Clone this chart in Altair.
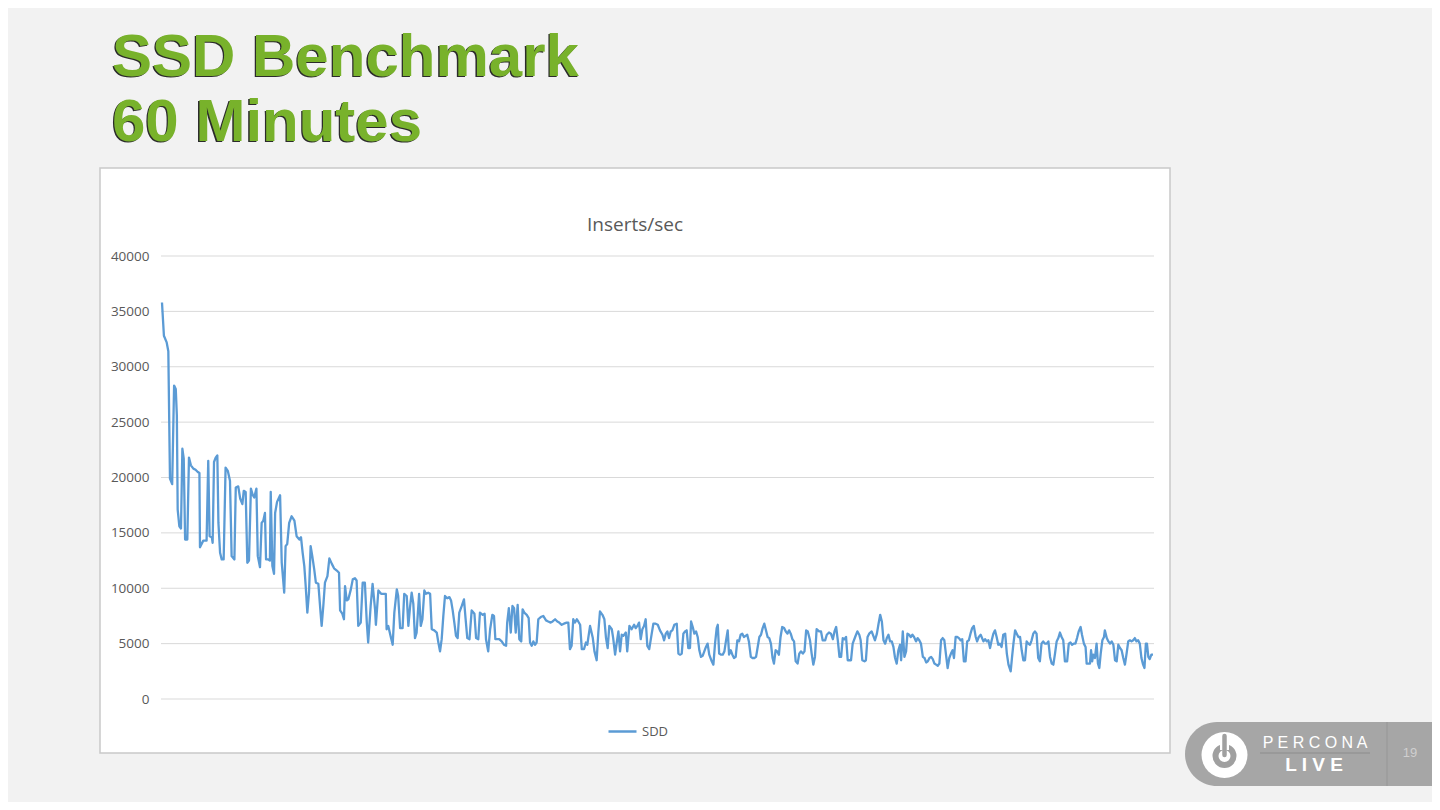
import altair as alt
import pandas as pd

# ---------------- data (elapsed seconds, inserts/sec) ----------------
t_a = [0, 7, 17, 23, 29, 37, 44, 50, 54, 57,
       63, 69, 74, 79, 84, 92, 98, 105, 114, 122,
       130, 136, 138, 144, 150, 162, 168, 173, 181, 184,
       189, 195, 201, 205, 211, 217, 224, 231, 239, 247,
       253, 263, 268, 277, 284, 292, 297, 304, 310, 316,
       323, 330, 335, 343, 348, 356, 362, 368, 374, 378,
       386, 392, 395, 401, 407, 411, 418, 429, 435, 444,
       449, 455, 462, 471, 481, 489, 499, 505, 511, 517,
       522, 528, 534, 540, 546, 553, 559, 568]
v_a = [35800, 32800, 32200, 31400, 19900, 19400, 28300, 28000, 25600, 17100,
       15600, 15400, 22600, 21700, 14400, 14400, 21800, 21100, 20800, 20700,
       20500, 20400, 13700, 14000, 14300, 14300, 21500, 14700, 14600, 14100,
       21400, 21800, 22000, 15900, 13200, 12600, 12600, 20900, 20600, 19700,
       12900, 12600, 19100, 19200, 18100, 17600, 18800, 18700, 12300, 12500,
       19000, 18400, 18200, 19000, 12900, 11900, 15900, 16100, 16800, 12600,
       12600, 12500, 18700, 12000, 11300, 16800, 17800, 18400, 12300, 9600,
       13800, 14000, 15900, 16500, 16100, 14700, 14400, 14600, 13200, 12000,
       10200, 7800, 9600, 13800, 12900, 11700, 10500, 10400]

t_b = [576, 580, 586, 592, 601, 608, 617, 625, 635, 643,
       647, 655, 661, 665, 671, 677, 686, 693, 701, 707,
       713, 722, 729, 737, 744, 749, 758, 765, 774, 777,
       786, 796, 804, 813, 816, 822, 832, 838, 844, 853,
       858, 865, 874, 880, 889, 895, 901, 907, 913, 919,
       925, 934, 940, 946, 953, 959, 967, 974, 980, 989,
       998, 1004, 1010, 1016, 1022, 1028, 1036, 1044, 1050, 1056,
       1062, 1068, 1074, 1080, 1089, 1097, 1103, 1109, 1117, 1125,
       1135, 1141, 1149, 1155]
v_b = [7800, 6600, 8400, 10500, 11100, 12700, 12200, 11800, 11600, 11400,
       8000, 7700, 7200, 10200, 8900, 9000, 9900, 10800, 10900, 10700,
       6600, 6900, 10500, 10500, 6900, 5100, 8400, 10400, 8100, 6700,
       9800, 9500, 9500, 9500, 6300, 6600, 5500, 4900, 7800, 9900,
       9300, 6400, 6400, 9500, 9300, 6600, 8300, 9600, 8600, 5500,
       6000, 9500, 6600, 7200, 9800, 9500, 9600, 9500, 6300, 6200,
       6000, 5100, 4300, 5400, 7500, 9300, 9100, 9200, 8900, 8000,
       6900, 5700, 5500, 7800, 8400, 9000, 7200, 5500, 5400, 8000,
       7700, 5500, 5400, 7800]

t_c = [1165, 1172, 1177, 1185, 1192, 1200, 1206, 1211, 1218, 1225,
       1234, 1242, 1250, 1254, 1260, 1267, 1273, 1279, 1285, 1292,
       1298, 1305, 1310, 1316, 1325, 1332, 1337, 1343, 1349, 1355,
       1361, 1367, 1376, 1385, 1395, 1403, 1412, 1419, 1428, 1436,
       1443, 1452, 1460, 1470, 1476, 1482, 1488, 1494, 1500, 1507,
       1512, 1519, 1525, 1533, 1540, 1545, 1555, 1565, 1571, 1579,
       1585, 1591, 1600, 1607, 1613, 1619, 1625, 1634, 1639, 1646,
       1652, 1658, 1664, 1670, 1676, 1685, 1690, 1698, 1706, 1715,
       1721, 1727, 1733, 1739, 1745, 1751, 1757, 1763, 1770]
v_c = [7600, 7700, 5400, 4300, 6300, 7600, 7500, 5400, 5400, 5400,
       5200, 4900, 4800, 6900, 8200, 6000, 8400, 8200, 6000, 8500,
       5400, 5200, 8100, 7800, 7600, 7300, 5100, 4800, 5200, 4900,
       5100, 7200, 7400, 7500, 7100, 7000, 6900, 7000, 7200, 7000,
       6900, 6700, 6800, 6900, 6900, 4500, 4800, 7200, 6900, 7200,
       7000, 6700, 4500, 4500, 5100, 4900, 6600, 5500, 4300, 3500,
       6000, 7900, 7600, 7200, 5500, 4600, 6600, 6300, 5500, 4000,
       5100, 6100, 4300, 5800, 5700, 6000, 4300, 6600, 6300, 6700,
       6400, 6600, 6900, 5400, 6300, 6600, 7200, 4800, 4500]

t_d = [1779, 1785, 1793, 1801, 1809, 1818, 1824, 1830, 1836, 1842,
       1848, 1854, 1861, 1870, 1876, 1882, 1888, 1894, 1900, 1906,
       1912, 1918, 1922, 1928, 1934, 1940, 1946, 1952, 1958, 1964,
       1970, 1976, 1982, 1988, 1997, 2003, 2009, 2015, 2019, 2024,
       2031, 2037, 2043, 2049, 2055, 2060, 2066, 2072, 2078, 2084,
       2090, 2096, 2102, 2108, 2114, 2120, 2126, 2132, 2139, 2145,
       2152, 2158, 2164, 2170, 2176, 2182, 2188, 2194, 2200, 2206,
       2212, 2218, 2223, 2229, 2235, 2241, 2247, 2253, 2260, 2266,
       2272, 2278, 2284, 2290, 2296, 2302, 2309, 2315, 2321, 2328,
       2334, 2340, 2346, 2354, 2360, 2366]
v_d = [5900, 6800, 6800, 6700, 6200, 5800, 5300, 5900, 6100, 5500,
       6100, 6200, 6700, 6800, 4100, 4000, 4100, 5900, 6100, 6200,
       4600, 4600, 7000, 6500, 5900, 6100, 5600, 4400, 3800, 3900,
       4300, 4700, 5000, 4000, 3400, 3100, 5000, 6400, 6700, 4100,
       4000, 4000, 4300, 5300, 6200, 4000, 4400, 4000, 3700, 3800,
       5300, 5200, 5800, 5900, 5600, 5700, 5800, 5200, 3800, 3700,
       3700, 3800, 4700, 5600, 5800, 6400, 6800, 6200, 5600, 5500,
       5000, 3700, 3200, 4400, 4300, 4000, 5600, 6500, 6400, 6100,
       5900, 6200, 5900, 5400, 5200, 3400, 3200, 4100, 4300, 4100,
       4300, 6200, 6100, 5300, 4100, 3100]

t_e = [2372, 2378, 2387, 2394, 2400, 2409, 2415, 2423, 2430, 2437,
       2443, 2449, 2455, 2461, 2467, 2473, 2479, 2485, 2491, 2497,
       2503, 2509, 2518, 2526, 2533, 2538, 2544, 2552, 2557, 2563,
       2569, 2578, 2584, 2590, 2597, 2603, 2609, 2615, 2621, 2627,
       2633, 2639, 2645, 2651, 2657, 2663, 2669, 2675, 2681, 2685,
       2691, 2697, 2703, 2708, 2714, 2720, 2726, 2732, 2739, 2745,
       2751, 2757, 2764, 2770, 2776, 2782, 2788, 2794, 2800, 2806,
       2812, 2818, 2824, 2830, 2836, 2842, 2848, 2854, 2860, 2866,
       2872, 2877, 2883, 2889, 2895, 2901, 2907, 2913, 2919, 2925,
       2931, 2937, 2943, 2949, 2956, 2961, 2967, 2974]
v_e = [3800, 6300, 6100, 6100, 5300, 5300, 5800, 6000, 5900, 5400,
       6100, 6500, 5300, 3800, 3800, 5500, 5400, 5600, 3500, 3500,
       3500, 5000, 5600, 6100, 5800, 5300, 3500, 3400, 3500, 5600,
       5900, 6100, 5700, 5300, 5900, 6800, 7600, 7000, 5300, 5000,
       5500, 5800, 5200, 5200, 4700, 3700, 3200, 4400, 4900, 3500,
       6100, 3800, 4300, 5900, 5800, 5600, 5800, 5600, 5200, 5500,
       5300, 5000, 3800, 3700, 3300, 3400, 3700, 3800, 3600, 3200,
       3100, 3000, 3200, 5300, 5500, 5300, 4000, 2800, 3700, 4100,
       4400, 3700, 5600, 5600, 5500, 5300, 5400, 3400, 3400, 5200,
       5300, 5900, 6400, 6600, 5600, 5200, 5600, 5800]

t_f = [2984, 2990, 2996, 3002, 3008, 3014, 3020, 3026, 3032, 3038,
       3044, 3050, 3056, 3063, 3069, 3075, 3083, 3088, 3093, 3099,
       3105, 3111, 3117, 3123, 3129, 3135, 3141, 3147, 3153, 3159,
       3165, 3171, 3177, 3183, 3189, 3195, 3201, 3207, 3214, 3220,
       3226, 3232, 3238, 3244, 3250, 3256, 3262, 3268, 3274, 3280,
       3288, 3294, 3300, 3306, 3312, 3318, 3324, 3330, 3337, 3342,
       3349, 3355, 3359, 3366, 3371, 3375, 3379, 3383, 3389, 3395,
       3400, 3405, 3410, 3416, 3422, 3425, 3432, 3438, 3444, 3450,
       3456, 3462, 3468, 3474, 3480, 3486, 3492, 3498, 3504, 3510,
       3516, 3522, 3528, 3534, 3540, 3546, 3552, 3558, 3564, 3569,
       3574, 3578, 3583, 3588, 3594, 3600]
v_f = [5200, 5400, 5200, 5300, 4600, 5300, 5900, 6200, 5600, 4900,
       5000, 4700, 5800, 5900, 4100, 3100, 2500, 3800, 5000, 6200,
       5900, 5600, 5600, 4400, 3500, 3500, 5200, 5000, 4900, 5300,
       5900, 6100, 5900, 3700, 3400, 5000, 5200, 5000, 5000, 5200,
       3800, 3200, 3100, 4100, 5200, 5500, 6000, 5600, 5300, 3400,
       3400, 5000, 5100, 4900, 5000, 5000, 5500, 6100, 6500, 5800,
       5000, 4700, 3200, 3200, 3200, 4400, 3400, 4000, 3700, 5000,
       3200, 2800, 4100, 5300, 5600, 6200, 5500, 5200, 5000, 5200,
       4900, 3500, 3400, 4900, 4600, 4400, 3700, 3100, 4100, 5200,
       5300, 5200, 5300, 5500, 5200, 5300, 5000, 3700, 3100, 2800,
       5000, 5000, 3800, 3600, 4000, 4000]

series_name = "SDD"
y_ticks = [0, 5000, 10000, 15000, 20000, 25000, 30000, 35000, 40000]
chart_title = "Inserts/sec"
slide_title = "SSD Benchmark\n60 Minutes"
logo_top = "P E R C O N A"
logo_bottom = "L I V E"
page_number = "19"

# ---------------- build table ----------------
segments = [(t_a, v_a), (t_b, v_b), (t_c, v_c), (t_d, v_d), (t_e, v_e), (t_f, v_f)]
ts, vs = [], []
for t, v in segments:
    assert len(t) == len(v), (len(t), len(v))
    ts += t
    vs += v
df = pd.DataFrame({"t": ts, "v": vs, "series": series_name})
grid_df = pd.DataFrame({"v": y_ticks})
one = pd.DataFrame({"k": [0]})

W, H = 993, 443
FONT = "Open Sans"
GREY_TXT = "#595959"

y_enc = alt.Y("v:Q", scale=alt.Scale(domain=[0, 40000], nice=False),
              axis=alt.Axis(values=y_ticks, title=None, grid=False, domain=False,
                            ticks=False, labelPadding=12, labelFontSize=13.5,
                            labelFont=FONT, labelColor=GREY_TXT, format="d", zindex=1))

# white chart box
box = alt.Chart(one).mark_rect(fill="white", stroke="#c9c9c9", strokeWidth=1.5).encode(
    x=alt.value(-61), x2=alt.value(1009), y=alt.value(-88), y2=alt.value(497))

grid = alt.Chart(grid_df).mark_rule(color="#d9d9d9", strokeWidth=1).encode(
    y=y_enc, x=alt.value(0), x2=alt.value(W))

line = alt.Chart(df).mark_line(strokeWidth=2.3, strokeJoin="round").encode(
    x=alt.X("t:Q", scale=alt.Scale(domain=[-3.6, 3603.6], nice=False, zero=False), axis=None),
    y=y_enc,
    color=alt.Color("series:N", scale=alt.Scale(domain=[series_name], range=["#5b9bd5"]),
                    legend=alt.Legend(title=None, orient="none", legendX=446, legendY=460,
                                      symbolType="stroke", symbolSize=784,
                                      symbolStrokeWidth=2.5, labelFontSize=13,
                                      labelFont=FONT, labelColor=GREY_TXT, labelOffset=4)),
    order="t:Q")

title_txt = alt.Chart(pd.DataFrame({"s": [chart_title]})).mark_text(
    fontSize=19, font=FONT, color=GREY_TXT, align="center", baseline="alphabetic").encode(
    text="s:N", x=alt.value(474), y=alt.value(-25))

slide_shadow = alt.Chart(pd.DataFrame({"s": [slide_title]})).mark_text(
    fontSize=60, font="Liberation Sans", fontWeight="bold", color="#2b2b2b",
    align="left", baseline="alphabetic", lineBreak="\n", lineHeight=65).encode(
    text="s:N", x=alt.value(-50.3), y=alt.value(-178.7))
slide_txt = alt.Chart(pd.DataFrame({"s": [slide_title]})).mark_text(
    fontSize=60, font="Liberation Sans", fontWeight="bold", color="#78b22b",
    align="left", baseline="alphabetic", lineBreak="\n", lineHeight=65).encode(
    text="s:N", x=alt.value(-49), y=alt.value(-180))

# Percona Live badge (bottom right)
pill = alt.Chart(one).mark_rect(fill="#a6a6a6", cornerRadius=32).encode(
    x=alt.value(1024), x2=alt.value(1330), y=alt.value(466), y2=alt.value(530))
divider = alt.Chart(one).mark_rule(color="#969696", strokeWidth=1).encode(
    x=alt.value(1226), y=alt.value(466), y2=alt.value(530))
circle_w = alt.Chart(one).mark_point(shape="circle", filled=True, color="white", size=2116, opacity=1).encode(
    x=alt.value(1063.5), y=alt.value(499))
ring = alt.Chart(one).mark_point(shape="circle", filled=False, color="#a0a0a0", size=324,
                                 strokeWidth=6, opacity=1).encode(
    x=alt.value(1063.5), y=alt.value(500))
gap = alt.Chart(one).mark_rule(color="white", strokeWidth=9).encode(
    x=alt.value(1063.5), y=alt.value(482), y2=alt.value(494))
bar = alt.Chart(one).mark_rule(color="#a0a0a0", strokeWidth=4.5, strokeCap="round").encode(
    x=alt.value(1063.5), y=alt.value(480), y2=alt.value(499))
logo1 = alt.Chart(pd.DataFrame({"s": [logo_top]})).mark_text(
    fontSize=16, font="Liberation Sans", color="white", align="center", baseline="alphabetic").encode(
    text="s:N", x=alt.value(1154), y=alt.value(492))
underline = alt.Chart(one).mark_rule(color="#8c8c8c", strokeWidth=1).encode(
    x=alt.value(1099), x2=alt.value(1209), y=alt.value(497))
logo2 = alt.Chart(pd.DataFrame({"s": [logo_bottom]})).mark_text(
    fontSize=19, font="Liberation Sans", fontWeight="bold", color="white", align="center",
    baseline="alphabetic").encode(text="s:N", x=alt.value(1153), y=alt.value(515))
pnum = alt.Chart(pd.DataFrame({"s": [page_number]})).mark_text(
    fontSize=13, font="Liberation Sans", color="#cfcfcf", align="center", baseline="middle").encode(
    text="s:N", x=alt.value(1249), y=alt.value(497))

chart = alt.layer(
    box, grid, line, title_txt, slide_shadow, slide_txt,
    pill, divider, circle_w, ring, gap, bar, logo1, underline, logo2, pnum
).properties(
    width=W, height=H,
    padding={"left": 153, "top": 248, "right": 278, "bottom": 103},
    autosize=alt.AutoSizeParams(type="none"),
    background="#f2f2f2",
).configure_view(stroke=None, clip=False)

chart.save("out.html", embed_options={"renderer": "svg", "actions": False})
